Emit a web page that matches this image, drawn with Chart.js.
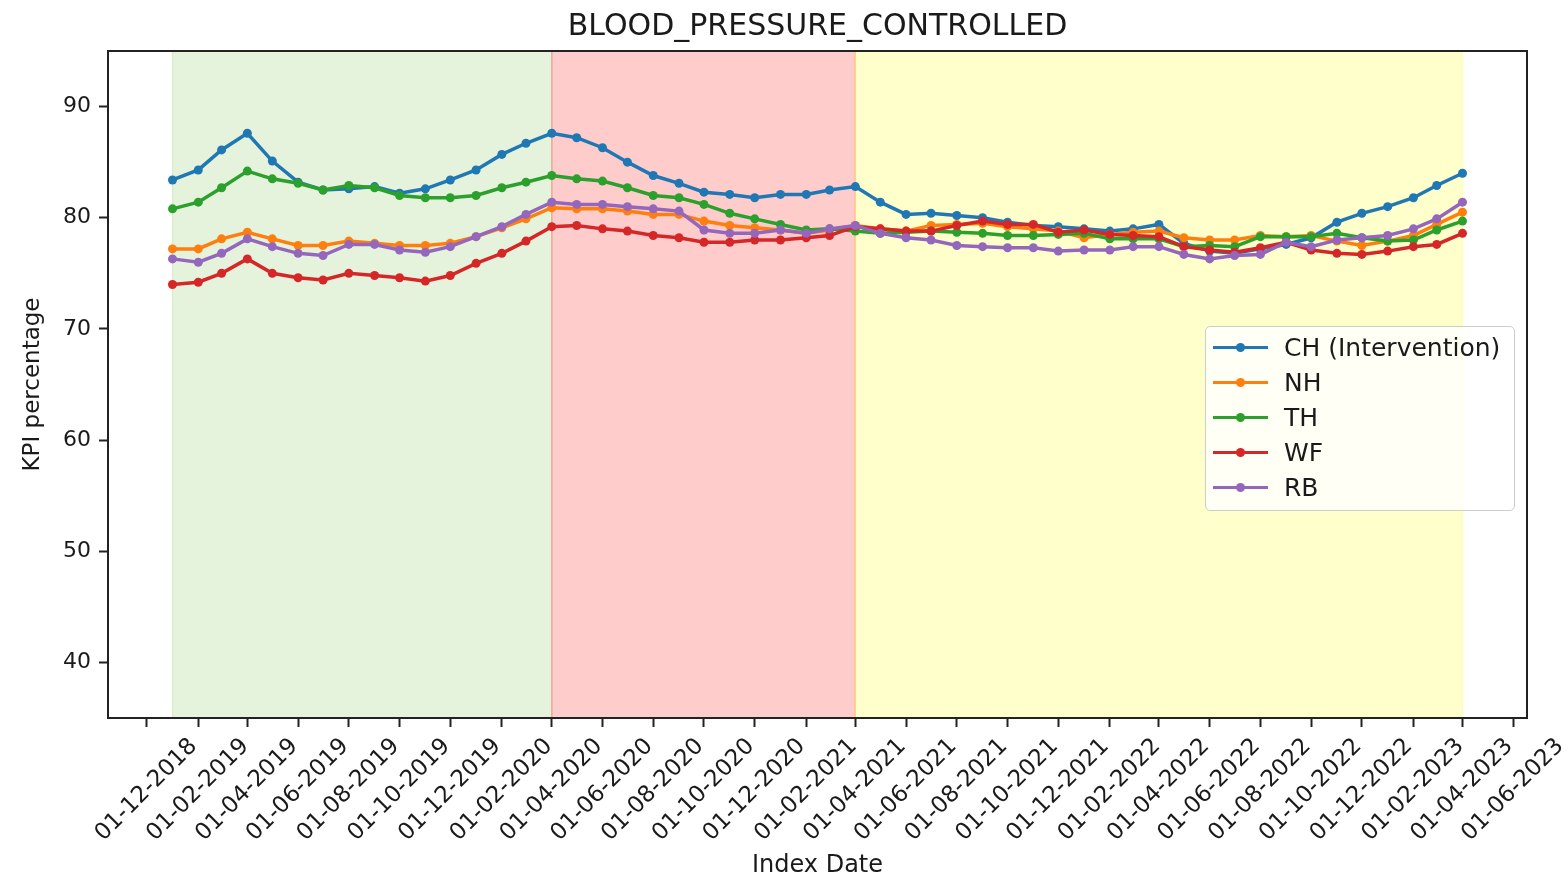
<!DOCTYPE html>
<html>
<head>
<meta charset="utf-8">
<script src="https://cdn.jsdelivr.net/npm/chart.js@4.4.0/dist/chart.umd.min.js"></script>
<style>
  html, body { margin: 0; padding: 0; background: #fff; }
  #wrap { position: relative; width: 1568px; height: 880px; }
  #legend {
    position: absolute; left: 1205px; top: 326px; width: 308px; height: 183px;
    border: 1.5px solid #cccccc; border-radius: 5px; background: rgba(255,255,255,0.8);
    font-family: 'DejaVu Sans', sans-serif; font-size: 25px; color: #1a1a1a;
  }
  .row { position: absolute; left: 0; height: 35px; width: 100%; }
  .swatch { position: absolute; left: 7px; top: 16px; width: 55px; height: 3.5px; }
  .dot { position: absolute; left: 23px; top: -3px; width: 9px; height: 9px; border-radius: 50%; }
  .lbl { position: absolute; left: 78px; top: 0; line-height: 35px; white-space: nowrap; }
</style>
</head>
<body>
<div id="wrap">
  <canvas id="kpi-chart" width="1568" height="880"></canvas>
  <div id="legend"></div>
</div>
<script>
// monthly index dates
const months = [
  '2019-01','2019-02','2019-03','2019-04','2019-05','2019-06','2019-07','2019-08','2019-09','2019-10','2019-11','2019-12',
  '2020-01','2020-02','2020-03','2020-04','2020-05','2020-06','2020-07','2020-08','2020-09','2020-10','2020-11','2020-12',
  '2021-01','2021-02','2021-03','2021-04','2021-05','2021-06','2021-07','2021-08','2021-09','2021-10','2021-11','2021-12',
  '2022-01','2022-02','2022-03','2022-04','2022-05','2022-06','2022-07','2022-08','2022-09','2022-10','2022-11','2022-12',
  '2023-01','2023-02','2023-03','2023-04'
];

const seriesNames = ['CH (Intervention)', 'NH', 'TH', 'WF', 'RB'];
const seriesColors = ['#1f77b4', '#ff7f0e', '#2ca02c', '#d62728', '#9467bd'];

const chValues = [
  83.4, 84.3, 86.1, 87.6, 85.1, 83.2, 82.5, 82.6, 82.8, 82.2, 82.6, 83.4,
  84.3, 85.7, 86.7, 87.6, 87.2, 86.3, 85.0, 83.8, 83.1, 82.3, 82.1, 81.8,
  82.1, 82.1, 82.5, 82.8, 81.4, 80.3, 80.4, 80.2, 80.0, 79.6, 79.3, 79.2,
  79.0, 78.8, 79.0, 79.4, 77.7, 77.0, 76.8, 77.2, 77.6, 78.2, 79.6, 80.4,
  81.0, 81.8, 82.9, 84.0
];
const nhValues = [
  77.2, 77.2, 78.1, 78.7, 78.1, 77.5, 77.5, 77.9, 77.7, 77.5, 77.5, 77.7,
  78.3, 79.1, 79.9, 80.9, 80.8, 80.8, 80.6, 80.3, 80.3, 79.7, 79.3, 79.1,
  78.9, 78.6, 78.9, 79.3, 79.0, 78.8, 79.3, 79.4, 79.5, 79.2, 79.0, 78.8,
  78.2, 78.5, 78.7, 78.8, 78.2, 78.0, 78.0, 78.4, 78.3, 78.4, 77.9, 77.5,
  77.9, 78.4, 79.4, 80.5
];
const thValues = [
  80.8, 81.4, 82.7, 84.2, 83.5, 83.1, 82.5, 82.9, 82.7, 82.0, 81.8, 81.8,
  82.0, 82.7, 83.2, 83.8, 83.5, 83.3, 82.7, 82.0, 81.8, 81.2, 80.4, 79.9,
  79.4, 78.9, 79.0, 78.8, 78.6, 78.7, 78.8, 78.7, 78.6, 78.4, 78.4, 78.5,
  78.6, 78.1, 78.1, 78.1, 77.4, 77.5, 77.4, 78.3, 78.3, 78.3, 78.6, 78.2,
  77.9, 78.0, 78.9, 79.7
];
const wfValues = [
  74.0, 74.2, 75.0, 76.3, 75.0, 74.6, 74.4, 75.0, 74.8, 74.6, 74.3, 74.8,
  75.9, 76.8, 77.9, 79.2, 79.3, 79.0, 78.8, 78.4, 78.2, 77.8, 77.8, 78.0,
  78.0, 78.2, 78.4, 79.2, 79.0, 78.8, 78.8, 79.3, 79.7, 79.4, 79.4, 78.7,
  78.9, 78.5, 78.4, 78.3, 77.4, 77.1, 76.9, 77.3, 77.8, 77.1, 76.8, 76.7,
  77.0, 77.4, 77.6, 78.6
];
const rbValues = [
  76.3, 76.0, 76.8, 78.1, 77.4, 76.8, 76.6, 77.6, 77.6, 77.1, 76.9, 77.4,
  78.3, 79.2, 80.3, 81.4, 81.2, 81.2, 81.0, 80.8, 80.6, 78.9, 78.6, 78.6,
  78.9, 78.6, 79.0, 79.3, 78.6, 78.2, 78.0, 77.5, 77.4, 77.3, 77.3, 77.0,
  77.1, 77.1, 77.4, 77.4, 76.7, 76.3, 76.6, 76.7, 77.8, 77.4, 78.0, 78.2,
  78.4, 79.0, 79.9, 81.4
];

const yTicks = [40, 50, 60, 70, 80, 90];
const xTickLabels = [
  '01-12-2018','01-02-2019','01-04-2019','01-06-2019','01-08-2019','01-10-2019','01-12-2019',
  '01-02-2020','01-04-2020','01-06-2020','01-08-2020','01-10-2020','01-12-2020',
  '01-02-2021','01-04-2021','01-06-2021','01-08-2021','01-10-2021','01-12-2021',
  '01-02-2022','01-04-2022','01-06-2022','01-08-2022','01-10-2022','01-12-2022',
  '01-02-2023','01-04-2023','01-06-2023'
];

const chartTitle = 'BLOOD_PRESSURE_CONTROLLED';

// shaded periods
const phaseStarts = ['2019-01', '2020-04', '2021-04'];
const phaseEnds = ['2020-04', '2021-04', '2023-04'];
const phaseColors = ['rgba(130,195,80,0.2)', 'rgba(255,0,0,0.2)', 'rgba(255,255,0,0.2)'];

const allSeries = [chValues, nhValues, thValues, wfValues, rbValues];

// dates -> day numbers, so the axis spacing follows the calendar like matplotlib
function monthDay(s) {
  const [y, m] = s.split('-');
  return Date.UTC(+y, +m - 1, 1) / 864e5;
}
function labelDay(s) {
  const [d, m, y] = s.split('-');
  return Date.UTC(+y, +m - 1, +d) / 864e5;
}

const xs = months.map(monthDay);
const xTickDays = xTickLabels.map(labelDay);
const span = xs[xs.length - 1] - xs[0];
const xMin = xs[0] - 0.05 * span;
const xMax = xs[xs.length - 1] + 0.05 * span;

const datasets = allSeries.map((vals, i) => ({
  label: seriesNames[i],
  data: vals.map((v, j) => ({ x: xs[j], y: v })),
  borderColor: seriesColors[i],
  backgroundColor: seriesColors[i],
  pointBackgroundColor: seriesColors[i],
  pointBorderWidth: 0,
  pointRadius: 4.5,
  borderWidth: 3.5,
  tension: 0,
  fill: false,
  order: allSeries.length - i
}));

const phasePlugin = {
  id: 'phases',
  beforeDatasetsDraw(chart) {
    const { ctx, chartArea, scales } = chart;
    ctx.save();
    phaseStarts.forEach((s, i) => {
      const x0 = scales.x.getPixelForValue(monthDay(s));
      const x1 = scales.x.getPixelForValue(monthDay(phaseEnds[i]));
      ctx.fillStyle = phaseColors[i];
      ctx.fillRect(x0, chartArea.top, x1 - x0, chartArea.bottom - chartArea.top);
      ctx.strokeStyle = phaseColors[i];
      ctx.lineWidth = 1.5;
      ctx.strokeRect(x0, chartArea.top, x1 - x0, chartArea.bottom - chartArea.top);
    });
    ctx.restore();
  }
};

// axes box + title centred over the axes (matplotlib style)
const framePlugin = {
  id: 'frame',
  afterDraw(chart) {
    const { ctx, chartArea } = chart;
    ctx.save();
    ctx.strokeStyle = '#222';
    ctx.lineWidth = 2;
    ctx.strokeRect(chartArea.left, chartArea.top, chartArea.right - chartArea.left, chartArea.bottom - chartArea.top);
    ctx.fillStyle = '#1a1a1a';
    ctx.font = "30px 'DejaVu Sans', sans-serif";
    ctx.textAlign = 'center';
    ctx.textBaseline = 'middle';
    ctx.fillText(chartTitle, (chartArea.left + chartArea.right) / 2, 27);
    ctx.restore();
  }
};

Chart.defaults.font.family = "'DejaVu Sans', sans-serif";
Chart.defaults.color = '#1a1a1a';

const ctx = document.getElementById('kpi-chart').getContext('2d');
new Chart(ctx, {
  type: 'line',
  data: { datasets: datasets },
  plugins: [phasePlugin, framePlugin],
  options: {
    responsive: false,
    animation: false,
    devicePixelRatio: 1,
    layout: { padding: { left: 0, right: 41, top: 51, bottom: 0 } },
    plugins: {
      legend: { display: false },
      tooltip: { enabled: false },
      title: { display: false }
    },
    scales: {
      x: {
        type: 'linear',
        min: xMin,
        max: xMax,
        afterBuildTicks: (scale) => { scale.ticks = xTickDays.map(v => ({ value: v })); },
        afterFit: (scale) => { scale.height = 162; },
        ticks: {
          autoSkip: false,
          minRotation: 45,
          maxRotation: 45,
          labelOffset: 47,
          padding: 6,
          font: { size: 23 },
          color: '#1a1a1a',
          callback: (v, i) => xTickLabels[i]
        },
        grid: { drawOnChartArea: false, drawTicks: true, tickLength: 9, tickWidth: 2, tickColor: '#222' },
        border: { display: true, color: '#222', width: 2 },
        title: { display: true, text: 'Index Date', font: { size: 24 }, color: '#1a1a1a', padding: { top: 0, bottom: 0 } }
      },
      y: {
        min: 35,
        max: 95,
        afterBuildTicks: (scale) => { scale.ticks = yTicks.map(v => ({ value: v })); },
        afterFit: (scale) => { scale.width = 108; },
        ticks: { padding: 8, font: { size: 22 }, color: '#1a1a1a' },
        grid: { drawOnChartArea: false, drawTicks: true, tickLength: 9, tickWidth: 2, tickColor: '#222' },
        border: { display: true, color: '#222', width: 2 },
        title: { display: true, text: 'KPI percentage', font: { size: 23 }, color: '#1a1a1a', padding: { top: 19, bottom: 0 } }
      }
    }
  }
});

// legend box, matplotlib style
const legendEl = document.getElementById('legend');
seriesNames.forEach((name, i) => {
  const row = document.createElement('div');
  row.className = 'row';
  row.style.top = (2.5 + i * 35) + 'px';
  row.innerHTML =
    '<div class="swatch" style="background:' + seriesColors[i] + '">' +
    '<div class="dot" style="background:' + seriesColors[i] + '"></div></div>' +
    '<div class="lbl">' + name + '</div>';
  legendEl.appendChild(row);
});
</script>
</body>
</html>
